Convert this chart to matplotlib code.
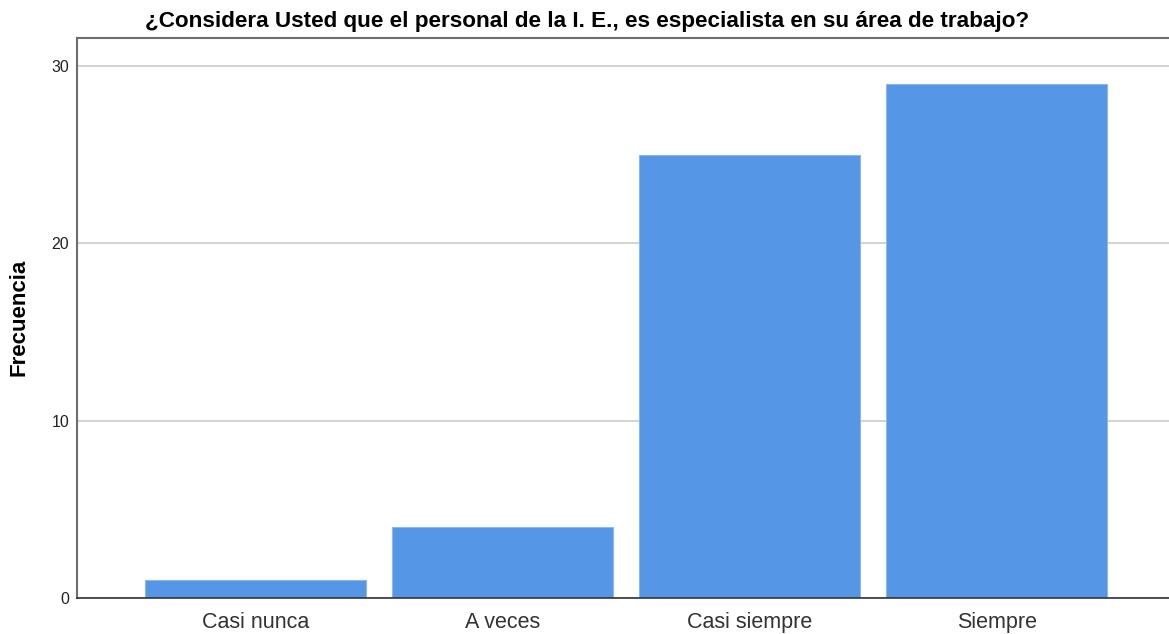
import matplotlib.pyplot as plt
import numpy as np

# Data
categorias = ["Casi nunca", "A veces", "Casi siempre", "Siempre"]
frecuencias = [1, 4, 25, 29]
yticks = [0, 10, 20, 30]

plt.rcParams["font.family"] = ["Liberation Sans", "DejaVu Sans"]

fig = plt.figure(figsize=(11.69, 6.34), dpi=100)
ax = fig.add_axes([77 / 1169, 1 - 598 / 634, 1 - 77 / 1169, (598 - 38) / 634])

x = np.arange(len(categorias))
ax.bar(x, frecuencias, width=0.895, color="#5596e6", edgecolor="#8cb8ee",
       linewidth=0.8, zorder=2)

ax.set_xlim(-0.7227, 3.698)
ax.set_ylim(0, 31.58)
ax.set_yticks(yticks)
ax.set_xticks(x)
ax.set_xticklabels(categorias, fontsize=15.5, color="#333333")
ax.tick_params(axis="x", length=0, pad=10)
ax.tick_params(axis="y", length=0, labelsize=11.5, labelcolor="#222222", pad=5.5)

ax.grid(axis="y", color="#d4d4d4", linewidth=1.5, zorder=0)
ax.set_axisbelow(True)

ax.spines["right"].set_visible(False)
for s in ("left", "top"):
    ax.spines[s].set_color("#6e6e6e")
    ax.spines[s].set_linewidth(1.5)
ax.spines["bottom"].set_color("#333333")
ax.spines["bottom"].set_linewidth(1.2)

fig.text(19 / 1169, 1 - 317 / 634, "Frecuencia", rotation=90, ha="center",
         va="center", fontsize=16, fontweight="bold")
fig.text(587.5 / 1169, 1 - 21 / 634,
         "¿Considera Usted que el personal de la I. E., es especialista en su área de trabajo?",
         ha="center", va="center", fontsize=16.2, fontweight="bold")

fig.savefig("out.png", dpi=100)
